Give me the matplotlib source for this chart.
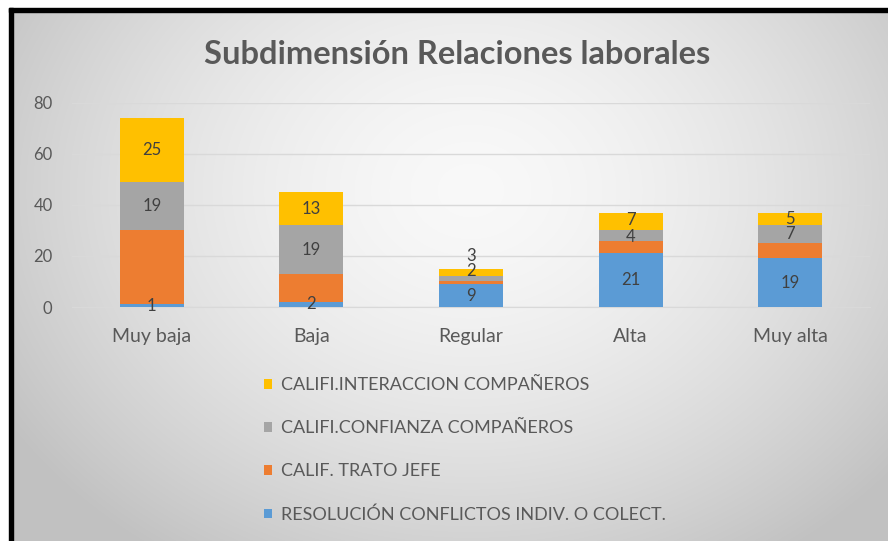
import numpy as np
import matplotlib.pyplot as plt
from matplotlib.patches import Rectangle

plt.rcParams['font.family'] = ['Lato', 'DejaVu Sans']

categorias = ['Muy baja', 'Baja', 'Regular', 'Alta', 'Muy alta']
series = ['RESOLUCIÓN CONFLICTOS INDIV. O COLECT.', 'CALIF. TRATO JEFE',
          'CALIFI.CONFIANZA COMPAÑEROS', 'CALIFI.INTERACCION COMPAÑEROS']
resolucion = [1, 2, 9, 21, 19]
trato_jefe = [29, 11, 1, 5, 6]
confianza = [19, 19, 2, 4, 7]
interaccion = [25, 13, 3, 7, 5]
colores = ['#5B9BD5', '#ED7D31', '#A5A5A5', '#FFC000']
# which series show data labels (orange ones are not shown in the original)
con_etiqueta = [True, False, True, True]

W, H = 888, 541
fig = plt.figure(figsize=(W / 100, H / 100), dpi=100)

# radial grey background
bg = fig.add_axes([0, 0, 1, 1], zorder=-10)
yy, xx = np.mgrid[0:H, 0:W]
r = np.sqrt(((xx - 470) / 520.0) ** 2 + ((yy - 190) / 420.0) ** 2)
val = np.clip(0.975 - 0.2 * r ** 1.6, 0.76, 1)
bg.imshow(np.dstack([val] * 3), extent=[0, W, H, 0], aspect='auto')
bg.set_xlim(0, W)
bg.set_ylim(H, 0)
bg.axis('off')
# white strip + black frame on left and top
bg.add_patch(Rectangle((0, 0), 9, H, color='white'))
bg.add_patch(Rectangle((0, 0), W, 8, color='white'))
bg.add_patch(Rectangle((9, 8), 4, H, color='black'))
bg.add_patch(Rectangle((9, 8), W, 4, color='black'))

ax = fig.add_axes([72 / W, 1 - 307 / H, (870 - 72) / W, (307 - 102.7) / H])
ax.set_facecolor('none')
x = np.arange(len(categorias))
datos = [resolucion, trato_jefe, confianza, interaccion]
fondo = np.zeros(len(categorias))
# small nudges where labels of thin segments would collide
ajuste = {(2, 2): 3.2, (3, 2): 6.5, (2, 3): -0.4, (3, 3): 0.6}
for i, (vals, col) in enumerate(zip(datos, colores)):
    vals = np.array(vals, dtype=float)
    ax.bar(x, vals, 0.4, bottom=fondo, color=col, label=series[i], zorder=3)
    if con_etiqueta[i]:
        for j, v in enumerate(vals):
            yv = fondo[j] + v / 2 + ajuste.get((i, j), 0)
            ax.text(x[j], yv, f'{int(v)}', ha='center', va='center',
                    fontsize=12, color='#404040', zorder=4)
    fondo += vals

ax.set_ylim(0, 80)
ax.set_xlim(-0.5, len(categorias) - 0.5)
ax.set_yticks([0, 20, 40, 60, 80])
ax.yaxis.grid(True, color='#d9d9d9', linewidth=1, zorder=0)
ax.set_xticks(x)
ax.set_xticklabels(categorias, fontsize=14, color='#595959')
ax.tick_params(axis='y', labelsize=12, labelcolor='#595959', length=0, pad=14)
ax.tick_params(axis='x', length=0, pad=15)
for s in ['top', 'right', 'left']:
    ax.spines[s].set_visible(False)
ax.spines['bottom'].set_color('#d9d9d9')

fig.text(457 / W, 1 - 54 / H, 'Subdimensión Relaciones laborales',
         ha='center', va='center', fontsize=23.5, fontweight='bold', color='#595959')

h, l = ax.get_legend_handles_labels()
leg = fig.legend(h[::-1], l[::-1], loc='upper left', bbox_to_anchor=(248 / W, 1 - 361 / H),
                 frameon=False, fontsize=13, labelspacing=1.5, handlelength=0.45,
                 handleheight=0.45, handletextpad=0.5, labelcolor='#595959')

fig.savefig('out.png', dpi=100)
